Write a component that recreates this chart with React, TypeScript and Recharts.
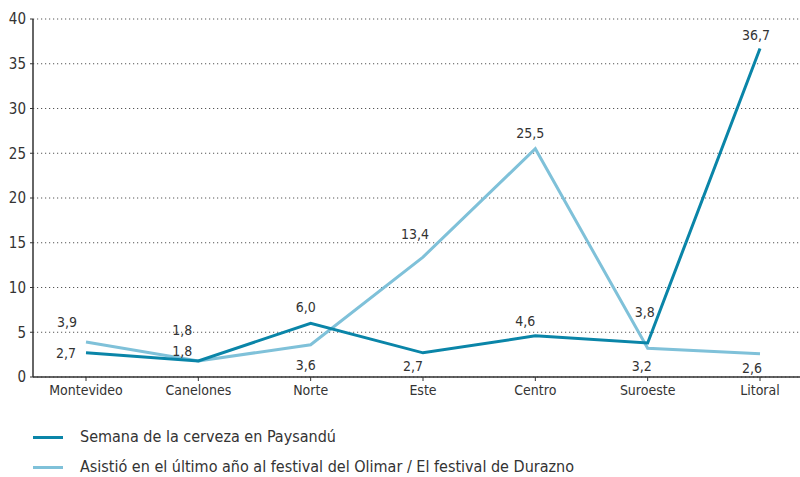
import React from 'react';
import { LineChart, Line, XAxis, YAxis, CartesianGrid } from 'recharts';

const categories = ['Montevideo', 'Canelones', 'Norte', 'Este', 'Centro', 'Suroeste', 'Litoral'];
const cervezaValues = [2.7, 1.8, 6.0, 2.7, 4.6, 3.8, 36.7];
const olimarValues = [3.9, 1.8, 3.6, 13.4, 25.5, 3.2, 2.6];
const yTicks = [0, 5, 10, 15, 20, 25, 30, 35, 40];

const SERIES_DARK = 'Semana de la cerveza en Paysandú';
const SERIES_LIGHT = 'Asistió en el último año al festival del Olimar / El festival de Durazno';

const DARK = '#0a85a8';
const LIGHT = '#7fc1d9';
const FONT = '"DejaVu Sans Condensed", "Liberation Sans Narrow", "Liberation Sans", sans-serif';
const TEXT = '#333333';

// label offsets relative to each point (styling only)
const darkLabelOffsets: [number, number][] = [[-20, 0], [-16, -10], [-5, -16], [-10, 13], [-10, -15], [-3, -31], [-4, -14]];
const lightLabelOffsets: [number, number][] = [[-19, -20], [-16, -31], [-5, 20], [-8, -23], [-5, -16], [-6, 18], [-8, 14]];

const data = categories.map((c, i) => ({ name: c, dark: cervezaValues[i], light: olimarValues[i] }));

const fmt = (v: number) => v.toFixed(1).replace('.', ',');

const makeLabel = (offsets: [number, number][]) => (props: any) => {
  const { x, y, value, index } = props;
  const [dx, dy] = offsets[index] || [0, -16];
  return (
    <text
      key={`l-${index}`}
      x={x + dx}
      y={y + dy}
      textAnchor="middle"
      dominantBaseline="central"
      fill={TEXT}
      fontSize={14}
      fontFamily={FONT}
    >
      {fmt(value)}
    </text>
  );
};

const legendItems = [{ c: DARK, t: SERIES_DARK }, { c: LIGHT, t: SERIES_LIGHT }];

export default function App() {
  return (
    <div style={{ position: 'absolute', left: 0, top: 0, width: 800, height: 477, background: '#fff' }}>
      <LineChart width={800} height={420} data={data} margin={{ top: 19, right: 0, left: 0, bottom: 13 }}>
        <CartesianGrid vertical={false} stroke="#555" strokeDasharray="1.2 2.8" />
        <XAxis
          dataKey="name"
          padding={{ left: 53, right: 40 }}
          axisLine={{ stroke: '#333', strokeWidth: 1.5 }}
          tickLine={{ stroke: '#333' }}
          tickSize={4}
          tickMargin={4}
          height={30}
          tick={{ fill: TEXT, fontSize: 14, fontFamily: FONT }}
          interval={0}
        />
        <YAxis
          domain={[0, 40]}
          ticks={yTicks}
          width={33}
          axisLine={{ stroke: '#333', strokeWidth: 1.5 }}
          tickLine={{ stroke: '#333' }}
          tickSize={3}
          tickMargin={4}
          tick={{ fill: TEXT, fontSize: 15, fontFamily: FONT }}
        />
        <Line
          name={SERIES_LIGHT}
          dataKey="light"
          stroke={LIGHT}
          strokeWidth={3}
          dot={false}
          isAnimationActive={false}
          label={makeLabel(lightLabelOffsets)}
        />
        <Line
          name={SERIES_DARK}
          dataKey="dark"
          stroke={DARK}
          strokeWidth={3}
          dot={false}
          isAnimationActive={false}
          label={makeLabel(darkLabelOffsets)}
        />
      </LineChart>
      <div style={{ position: 'absolute', left: 0, top: 422, fontFamily: FONT, fontSize: 16, color: TEXT, lineHeight: '30px' }}>
        {legendItems.map((it, i) => (
          <div key={i} style={{ display: 'flex', alignItems: 'center', height: 30, whiteSpace: 'nowrap' }}>
            <div style={{ width: 30, height: 3, background: it.c, marginLeft: 33, marginRight: 17 }} />
            <span>{it.t}</span>
          </div>
        ))}
      </div>
    </div>
  );
}
